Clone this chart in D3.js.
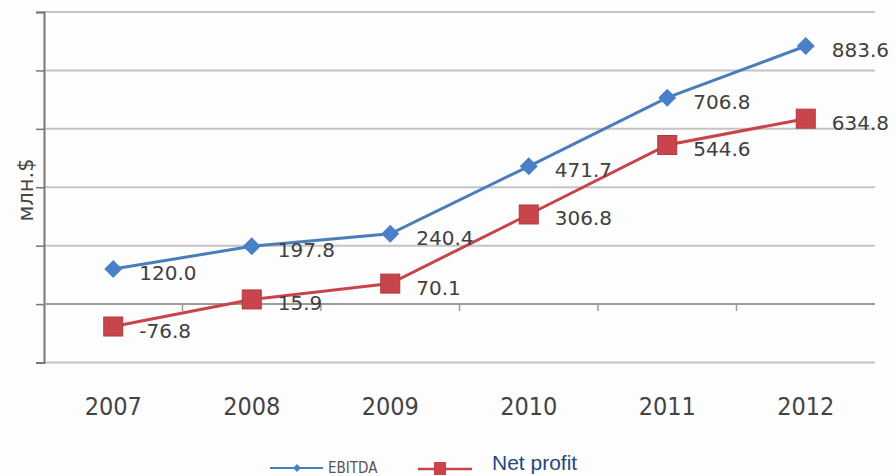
<!DOCTYPE html>
<html>
<head>
<meta charset="utf-8">
<script src="https://cdn.jsdelivr.net/npm/d3@7"></script>
<style>
  body { margin: 0; background: #fdfdfd; }
  svg { display: block; }
</style>
</head>
<body>
<svg class="chart" width="896" height="476"></svg>
<script>
// data
var years = ["2007", "2008", "2009", "2010", "2011", "2012"];
var ebitda = [120.0, 197.8, 240.4, 471.7, 706.8, 883.6];
var netProfit = [-76.8, 15.9, 70.1, 306.8, 544.6, 634.8];
var yTicks = [-200, 0, 200, 400, 600, 800, 1000];

var svg = d3.select("svg.chart");

var x = d3.scaleBand()
    .domain(years)
    .range([44, 875]);

var y = d3.scaleLinear()
    .domain([-200, 1000])
    .range([362.5, 12]);

function cx(d, i) { return x(years[i]) + x.bandwidth() / 2; }

// gridlines
svg.append("g")
    .selectAll("line")
    .data(yTicks.filter(function(t) { return t !== 0; }))
    .enter().append("line")
    .attr("x1", 44).attr("x2", 875)
    .attr("y1", function(d) { return y(d); })
    .attr("y2", function(d) { return y(d); })
    .attr("stroke", "#c4c4c4")
    .attr("stroke-width", 2);

// y axis
var yAxis = svg.append("g")
    .attr("transform", "translate(44,0)")
    .call(d3.axisLeft(y).tickValues(yTicks).tickSize(8).tickFormat(""));
yAxis.select(".domain").attr("stroke", "#777").attr("stroke-width", 2);
yAxis.selectAll(".tick line").attr("stroke", "#777").attr("stroke-width", 1.5);

// zero line with category ticks
var xAxis = svg.append("g")
    .attr("transform", "translate(0," + y(0) + ")");
xAxis.append("line")
    .attr("x1", 44).attr("x2", 875)
    .attr("stroke", "#9a9a9a")
    .attr("stroke-width", 2);
xAxis.selectAll("line.tk")
    .data(years.slice(1))
    .enter().append("line")
    .attr("class", "tk")
    .attr("x1", function(d) { return x(d); })
    .attr("x2", function(d) { return x(d); })
    .attr("y1", 0).attr("y2", 7)
    .attr("stroke", "#9a9a9a")
    .attr("stroke-width", 1.5);

// year labels
svg.append("g")
    .selectAll("text")
    .data(years)
    .enter().append("text")
    .attr("x", function(d) { return x(d) + x.bandwidth() / 2; })
    .attr("y", 415)
    .attr("text-anchor", "middle")
    .attr("font-family", "'DejaVu Sans Condensed', 'DejaVu Sans'")
    .attr("font-size", 25)
    .attr("fill", "#444")
    .text(function(d) { return d; });

// y axis title
svg.append("text")
    .attr("transform", "translate(33,190) rotate(-90)")
    .attr("text-anchor", "middle")
    .attr("font-family", "'DejaVu Sans'")
    .attr("font-size", 21)
    .attr("fill", "#444")
    .text("млн.$");

var line = d3.line()
    .x(cx)
    .y(function(d) { return y(d); });

// net profit
svg.append("path")
    .datum(netProfit)
    .attr("d", line)
    .attr("fill", "none")
    .attr("stroke", "#c8434a")
    .attr("stroke-width", 3);

// ebitda
svg.append("path")
    .datum(ebitda)
    .attr("d", line)
    .attr("fill", "none")
    .attr("stroke", "#4a7ebb")
    .attr("stroke-width", 3);

svg.append("g")
    .selectAll("rect")
    .data(netProfit)
    .enter().append("rect")
    .attr("x", function(d, i) { return cx(d, i) - 9.5; })
    .attr("y", function(d) { return y(d) - 9.5; })
    .attr("width", 19).attr("height", 19)
    .attr("fill", "#c8464b")
    .attr("stroke", "#b03a3f")
    .attr("stroke-width", 1);

var diamond = d3.symbol().type(d3.symbolSquare).size(162);
svg.append("g")
    .selectAll("path")
    .data(ebitda)
    .enter().append("path")
    .attr("d", diamond)
    .attr("transform", function(d, i) { return "translate(" + cx(d, i) + "," + y(d) + ") rotate(45)"; })
    .attr("fill", "#4a80c8");

// data labels
function labels(vals) {
    svg.append("g")
        .selectAll("text")
        .data(vals)
        .enter().append("text")
        .attr("x", function(d, i) { return cx(d, i) + 26; })
        .attr("y", function(d) { return y(d) + 11; })
        .attr("font-family", "'DejaVu Sans'")
        .attr("font-size", 20)
        .attr("fill", "#404040")
        .text(function(d) { return d.toFixed(1); });
}
labels(ebitda);
labels(netProfit);

// legend
var leg = svg.append("g");
leg.append("line")
    .attr("x1", 270).attr("x2", 323).attr("y1", 468).attr("y2", 468)
    .attr("stroke", "#4a7ebb").attr("stroke-width", 2);
leg.append("path")
    .attr("d", d3.symbol().type(d3.symbolSquare).size(32))
    .attr("transform", "translate(297,468) rotate(45)")
    .attr("fill", "#4a80c8");
leg.append("text")
    .attr("x", 328).attr("y", 473)
    .attr("font-family", "'DejaVu Sans Condensed', 'DejaVu Sans'")
    .attr("font-size", 15)
    .attr("fill", "#555")
    .text("EBITDA");

leg.append("line")
    .attr("x1", 418).attr("x2", 472).attr("y1", 469).attr("y2", 469)
    .attr("stroke", "#c8434a").attr("stroke-width", 2.5);
leg.append("rect")
    .attr("x", 434).attr("y", 462).attr("width", 12).attr("height", 13)
    .attr("fill", "#c8464b");
leg.append("text")
    .attr("x", 492).attr("y", 470)
    .attr("font-family", "'Liberation Sans', Arial")
    .attr("font-size", 21)
    .attr("fill", "#1f497d")
    .text("Net profit");
</script>
</body>
</html>
